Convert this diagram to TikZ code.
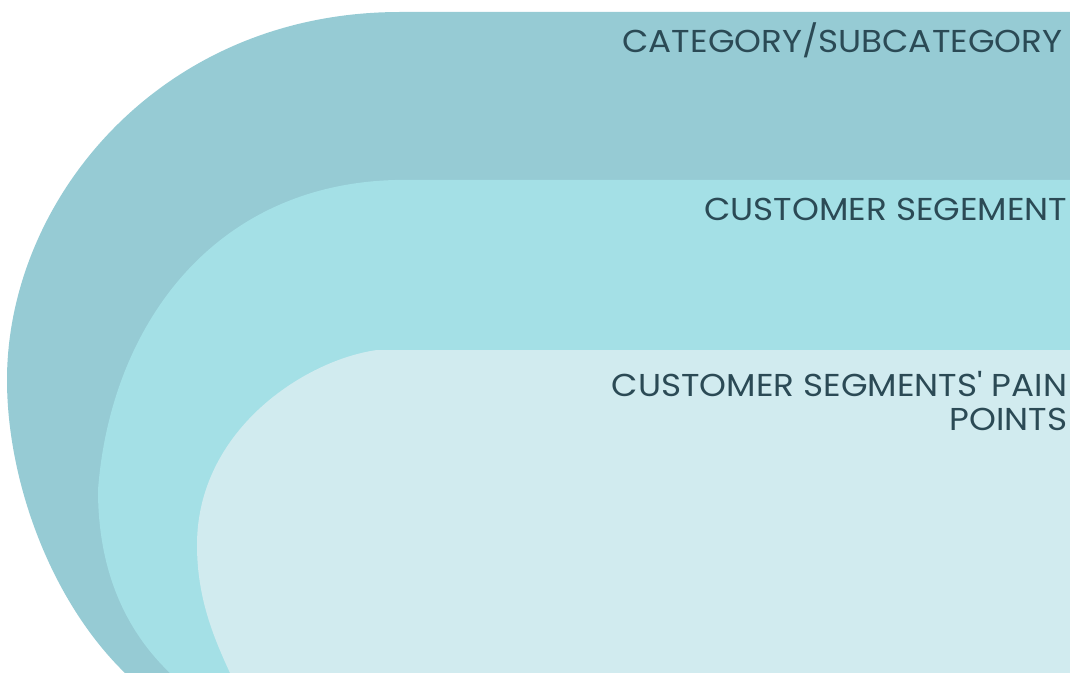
\documentclass[tikz,border=0pt]{standalone}
\usepackage{fontspec}
\setmainfont{Poppins}
\usetikzlibrary{positioning}

\definecolor{bandouter}{HTML}{96CBD4}
\definecolor{bandmid}{HTML}{A4E0E6}
\definecolor{bandinner}{HTML}{D1EBEF}
\definecolor{labelink}{HTML}{2B4A55}

\tikzset{
  bandlabel/.style={anchor=base east, inner sep=0pt, text=labelink, xscale=1.08,
    font=\fontsize{9}{9.4}\selectfont, align=right}
}

\begin{document}
\begin{tikzpicture}[x=0.01cm, y=-0.01cm]
    \useasboundingbox (0,0) rectangle (1070,673);
    \clip (0,0) rectangle (1070,673);

    % outer band
    \fill[bandouter] (1080,12) -- (400,12)
        .. controls (160,12) and (7,200) .. (7,380)
        .. controls (7,480) and (50,600) .. (125,673)
        -- (125,690) -- (1080,690) -- cycle;
    % middle band
    \fill[bandmid] (1080,180) -- (395,180)
        .. controls (210,185) and (110,330) .. (98,490)
        .. controls (98,570) and (125,630) .. (170,673)
        -- (170,690) -- (1080,690) -- cycle;
    % inner band
    \fill[bandinner] (1080,350) -- (377,350)
        .. controls (305,360) and (197,430) .. (197,545)
        .. controls (197,600) and (215,640) .. (230,673)
        -- (230,690) -- (1080,690) -- cycle;

    \node[bandlabel] (cat) at (1063,53) {CATEGORY/SUBCATEGORY};
    \node[bandlabel] (seg) at (1068,221) {CUSTOMER SEGEMENT};
    \node[bandlabel] (pain) at (1068,430) {CUSTOMER SEGMENTS\textquotesingle{} PAIN\\POINTS};
\end{tikzpicture}
\end{document}
